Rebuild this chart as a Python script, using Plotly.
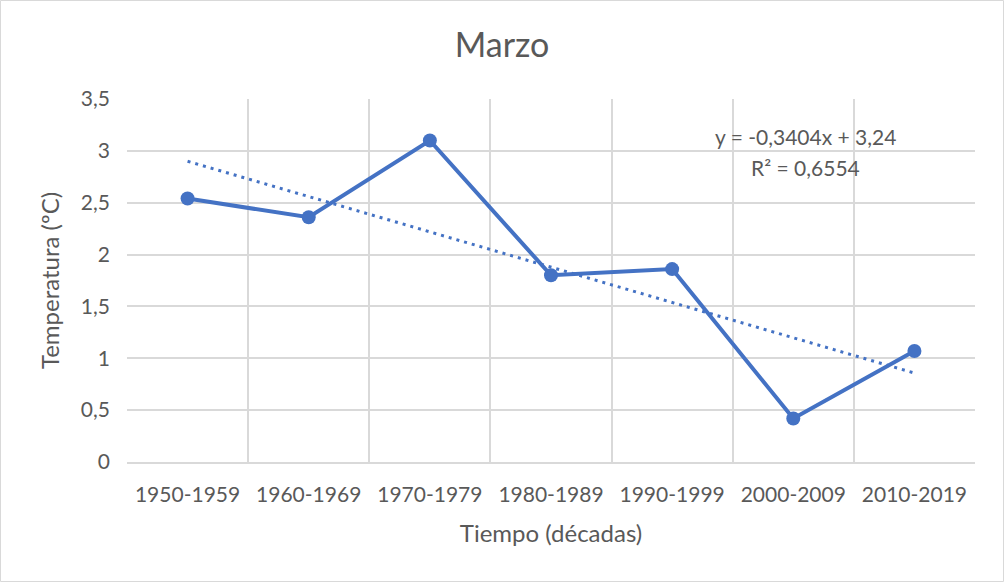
import numpy as np
import plotly.graph_objects as go

categories = ["1950-1959", "1960-1969", "1970-1979", "1980-1989", "1990-1999", "2000-2009", "2010-2019"]
temperatures = [2.54, 2.36, 3.10, 1.80, 1.86, 0.42, 1.07]
y_ticks = [0, 0.5, 1, 1.5, 2, 2.5, 3, 3.5]

xs = np.arange(1, len(categories) + 1)
slope, intercept = np.polyfit(xs, temperatures, 1)
trend = slope * xs + intercept
pred = np.array(temperatures)
r2 = 1 - np.sum((pred - trend) ** 2) / np.sum((pred - pred.mean()) ** 2)

BLUE = "#4472C4"
GREY = "#595959"
FONT = "Lato"

fig = go.Figure()
fig.add_trace(go.Scatter(
    x=categories, y=temperatures, mode="lines+markers",
    line=dict(color=BLUE, width=4),
    marker=dict(color=BLUE, size=14),
    showlegend=False, hoverinfo="x+y"))
fig.add_trace(go.Scatter(
    x=categories, y=trend, mode="lines",
    line=dict(color=BLUE, width=3, dash="3px,5px"),
    showlegend=False, hoverinfo="skip"))

W, H = 1004, 582
ml, mr, mt, mb = 127, 29, 99, 120
pw, ph = W - ml - mr, H - mt - mb

fmt = lambda v: f"{v:.4f}".replace(".", ",")
eq = f"y = {fmt(slope)}x + {f'{intercept:.2f}'.replace('.', ',')}"
r2txt = f"R² = {fmt(r2)}"

fig.add_annotation(x=(805 - ml) / pw, y=(H - mb - 137) / ph, xref="paper", yref="paper",
                   xanchor="center", yanchor="middle",
                   text=eq, showarrow=False, font=dict(family=FONT, size=21, color=GREY))
fig.add_annotation(x=(805 - ml) / pw, y=(H - mb - 167) / ph, xref="paper", yref="paper",
                   xanchor="center", yanchor="middle",
                   text=r2txt, showarrow=False, font=dict(family=FONT, size=21, color=GREY))

# outer chart border
fig.add_shape(type="rect", xref="paper", yref="paper",
              x0=(0.5 - ml) / pw, x1=(W - 0.5 - ml) / pw,
              y0=-(mb - 0.5) / ph, y1=(H - mb - 0.5) / ph,
              line=dict(color="#d9d9d9", width=1))

fig.update_layout(
    width=W, height=H,
    margin=dict(l=ml, r=mr, t=mt, b=mb),
    paper_bgcolor="white", plot_bgcolor="white",
    separators=",.",
    title=dict(text="Marzo", x=0.5, xref="container", xanchor="center", y=1 - 45 / H, yanchor="middle",
               font=dict(family=FONT, size=34, color=GREY)),
    font=dict(family=FONT, color=GREY),
    xaxis=dict(type="category", tickson="boundaries", showgrid=True, gridcolor="#d9d9d9", gridwidth=1.5,
               ticks="", showline=True, linecolor="#d9d9d9", linewidth=1.5,
               tickfont=dict(family=FONT, size=21, color=GREY), ticklabelstandoff=13,
               title=dict(text="Tiempo (décadas)", font=dict(family=FONT, size=24, color=GREY), standoff=20),
               range=[-0.5, 6.5], fixedrange=True),
    yaxis=dict(range=[0, 3.5], tickvals=y_ticks, showgrid=True, gridcolor="#d9d9d9", gridwidth=1.5,
               zeroline=False, showline=False, ticks="",
               tickfont=dict(family=FONT, size=21, color=GREY), ticklabelstandoff=16,
               title=dict(text="Temperatura (ºC)", font=dict(family=FONT, size=24, color=GREY), standoff=14)),
)

fig.write_html("out.html", config={"displayModeBar": False},
               post_script="document.body.style.margin='0';")
